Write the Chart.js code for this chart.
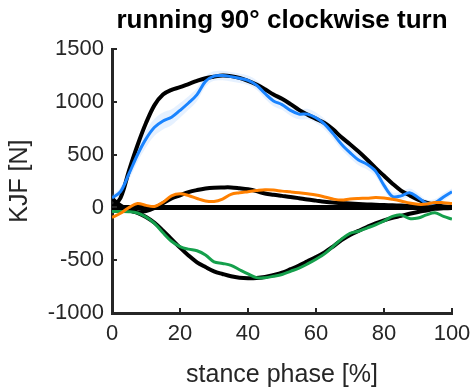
<!DOCTYPE html>
<html>
<head>
<meta charset="utf-8">
<script src="https://cdn.jsdelivr.net/npm/chart.js@4.4.0/dist/chart.umd.min.js"></script>
<style>
  html, body { margin: 0; padding: 0; background: #fff; }
  #wrap { width: 473px; height: 390px; }
</style>
</head>
<body>
<div id="wrap"><canvas id="kjf" width="473" height="390"></canvas></div>
<script>
// stance phase samples [%]
const phase = [0, 2.5, 5, 7.5, 10, 12.5, 15, 17.5, 20, 22.5, 25, 27.5, 30, 32.5, 35, 37.5, 40, 42.5, 45, 47.5,
  50, 52.5, 55, 57.5, 60, 62.5, 65, 67.5, 70, 72.5, 75, 77.5, 80, 82.5, 85, 87.5, 90, 92.5, 95, 97.5, 100];

// black reference curves
const refUpper = [0, 90, 350, 590, 800, 970, 1070, 1115, 1140, 1170, 1200, 1225, 1240, 1250, 1245, 1228, 1200, 1165, 1120, 1070,
  1030, 980, 925, 880, 840, 800, 740, 665, 600, 530, 455, 375, 300, 225, 160, 115, 75, 45, 25, 10, 0];
const refMid = [85, 20, -25, -45, -35, -5, 40, 85, 115, 145, 165, 180, 188, 190, 190, 182, 172, 155, 132, 120,
  110, 100, 88, 75, 65, 55, 47, 42, 37, 33, 29, 26, 23, 20, 18, 15, 13, 11, 9, 7, 5];
const refLower = [-20, -22, -30, -50, -90, -145, -220, -300, -380, -455, -520, -565, -605, -630, -652, -665, -670, -668, -658, -640,
  -618, -585, -550, -510, -470, -425, -370, -310, -260, -222, -185, -150, -122, -98, -80, -60, -43, -28, -12, -8, -5];

// measured curves
const blueVals = [90, 150, 320, 500, 650, 760, 820, 855, 920, 990, 1070, 1195, 1245, 1250, 1240, 1225, 1205, 1160, 1080, 1010,
  975, 920, 885, 885, 850, 790, 700, 600, 520, 450, 410, 345, 210, 105, 110, 140, 95, 40, 45, 100, 150];
const blueSpread = [30, 40, 60, 70, 80, 80, 80, 75, 70, 65, 60, 50, 45, 45, 45, 45, 45, 45, 50, 50,
  50, 50, 50, 50, 50, 50, 50, 50, 50, 50, 50, 50, 45, 40, 40, 40, 40, 35, 35, 35, 30];
const orangeVals = [-95, -55, 0, 38, 20, 10, 50, 110, 130, 113, 85, 62, 57, 80, 125, 140, 150, 160, 168, 165,
  155, 148, 140, 130, 118, 100, 80, 70, 80, 85, 88, 94, 90, 78, 62, 42, 30, 32, 47, 45, 38];
const greenVals = [-38, -38, -40, -52, -90, -150, -240, -320, -370, -395, -410, -450, -515, -530, -548, -590, -630, -665, -665, -652,
  -635, -605, -575, -535, -490, -440, -370, -300, -245, -225, -195, -165, -128, -85, -70, -105, -100, -70, -50, -85, -110];

const xTicks = [0, 20, 40, 60, 80, 100];
const yTicks = [-1000, -500, 0, 500, 1000, 1500];

const FONT = "'Liberation Sans', Arial, Helvetica, sans-serif";
const AX = '#262626';

const pts = arr => arr.map((v, i) => ({ x: phase[i], y: v }));

// inward tick marks, like the original axes
const inwardTicks = {
  id: 'inwardTicks',
  afterDatasetsDraw(chart) {
    const { ctx, chartArea: a, scales } = chart;
    ctx.save();
    ctx.strokeStyle = AX;
    ctx.lineWidth = 2;
    xTicks.forEach(t => {
      const px = Math.round(scales.x.getPixelForValue(t));
      ctx.beginPath(); ctx.moveTo(px, a.bottom); ctx.lineTo(px, a.bottom - 5); ctx.stroke();
    });
    yTicks.forEach(t => {
      const py = Math.round(scales.y.getPixelForValue(t));
      ctx.beginPath(); ctx.moveTo(a.left, py); ctx.lineTo(a.left + 5, py); ctx.stroke();
    });
    ctx.restore();
  }
};

const line = (data, color, width, order) => ({
  data: pts(data), borderColor: color, borderWidth: width, pointRadius: 0,
  tension: 0.35, fill: false, order: order
});

new Chart(document.getElementById('kjf'), {
  type: 'line',
  data: {
    datasets: [
      line(orangeVals, '#ff8000', 3, 1),
      line(greenVals, '#15a04c', 3, 1),
      line(blueVals, '#1a84ff', 3, 1),
      { data: [{ x: 0, y: 0 }, { x: 100, y: 0 }], borderColor: '#000', borderWidth: 5, pointRadius: 0, fill: false, order: 2 },
      line(refUpper, '#000', 4, 3),
      line(refMid, '#000', 4, 3),
      line(refLower, '#000', 4, 3),
      { data: pts(blueVals.map((v, i) => v + blueSpread[i])), borderWidth: 0, pointRadius: 0, tension: 0.35,
        fill: '+1', backgroundColor: 'rgba(140,190,255,0.22)', order: 4 },
      { data: pts(blueVals.map((v, i) => v - blueSpread[i])), borderWidth: 0, pointRadius: 0, tension: 0.35,
        fill: false, order: 4 }
    ]
  },
  options: {
    responsive: false,
    animation: false,
    events: [],
    layout: { padding: { left: 1, right: 21, top: 0, bottom: 0 } },
    plugins: {
      legend: { display: false },
      tooltip: { enabled: false },
      title: {
        display: true, text: 'running 90° clockwise turn', color: '#000', fullSize: false,
        font: { family: FONT, size: 26, weight: 'bold' }, padding: { top: 5, bottom: 13 }
      }
    },
    scales: {
      x: {
        type: 'linear', min: 0, max: 100,
        afterBuildTicks: s => { s.ticks = xTicks.map(v => ({ value: v })); },
        afterFit: s => { s.height = 77; s.paddingLeft = 0; s.paddingRight = 0; },
        grid: { display: false, drawTicks: false },
        border: { display: true, color: AX, width: 3 },
        ticks: { color: AX, font: { family: FONT, size: 22 }, padding: 8, maxRotation: 0,
          callback: v => String(v) },
        title: { display: true, text: 'stance phase [%]', color: AX, font: { family: FONT, size: 25 }, padding: { top: 2, bottom: 0 } }
      },
      y: {
        type: 'linear', min: -1000, max: 1500,
        afterBuildTicks: s => { s.ticks = yTicks.map(v => ({ value: v })); },
        afterFit: s => { s.width = 111; s.paddingTop = 0; s.paddingBottom = 0; },
        grid: { display: false, drawTicks: false },
        border: { display: true, color: AX, width: 3 },
        ticks: { color: AX, font: { family: FONT, size: 22 }, padding: 8,
          callback: v => String(v) },
        title: { display: true, text: 'KJF [N]', color: AX, font: { family: FONT, size: 25 }, padding: { top: 4, bottom: 4 } }
      }
    }
  },
  plugins: [inwardTicks]
});
</script>
</body>
</html>
